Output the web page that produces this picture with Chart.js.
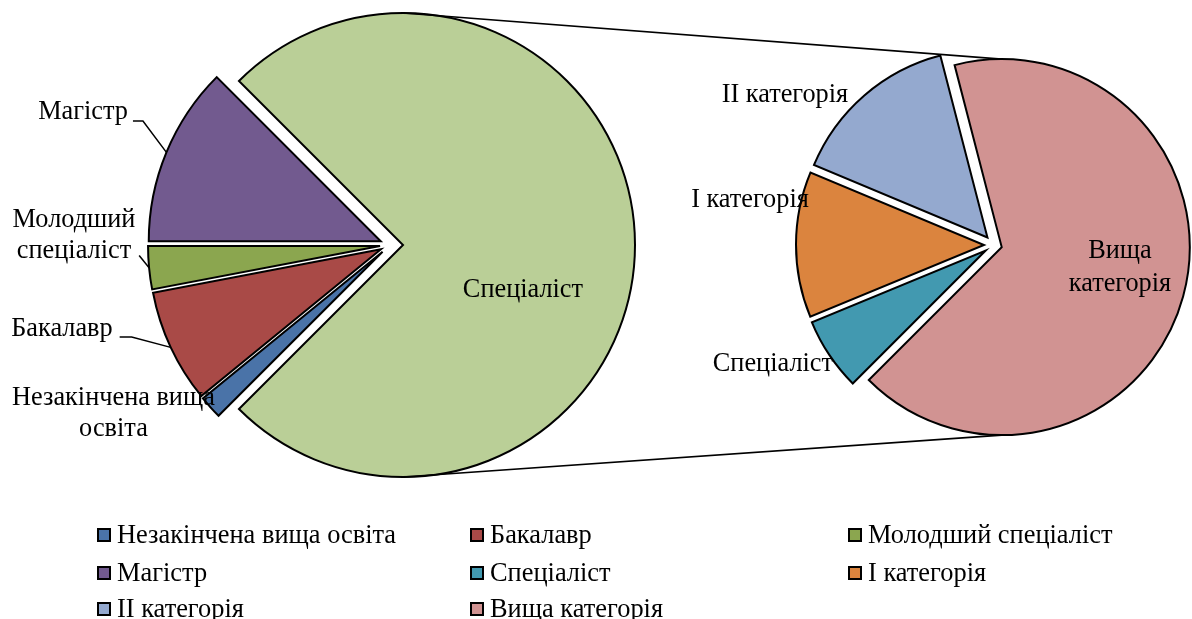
<!DOCTYPE html>
<html>
<head>
<meta charset="utf-8">
<script src="https://cdn.jsdelivr.net/npm/chart.js@4"></script>
<style>
html,body{margin:0;padding:0;background:#fff;}
#wrap{position:relative;width:1192px;height:619px;overflow:hidden;background:#fff;}
#wrap canvas{position:absolute;left:0;top:0;}
.lg{position:absolute;font-family:"Liberation Serif";font-size:26.4px;color:#000;white-space:nowrap;line-height:30px;height:30px;padding-left:20px;}
.lg i{position:absolute;left:0;top:9px;width:10px;height:10px;border:2px solid #000;}
</style>
</head>
<body>
<div id="wrap">
  <canvas id="c1" width="1192" height="619"></canvas>
  <canvas id="c2" width="1192" height="619"></canvas>
  <div id="legend"></div>
</div>
<script>
// ---- data ----
const mainCategories = ['Незакінчена вища освіта', 'Бакалавр', 'Молодший спеціаліст', 'Магістр'];
const mainValues = [1.6, 7.9, 3.0, 12.5];
const mainColors = ['#4A73A8', '#A94A47', '#8BA64F', '#725A8F'];

const otherLabel = 'Спеціаліст';
const otherColor = '#BACF97';

const subCategories = ['Спеціаліст', 'І категорія', 'ІІ категорія', 'Вища категорія'];
const subValues = [4.7, 9.4, 11.0, 49.9];
const subColors = ['#4299B0', '#DB843E', '#94A9CF', '#D19392'];

const otherValue = subValues.reduce((a, b) => a + b, 0);

const FONT = '26.3px "Liberation Serif"';

// ---- plugin: explode slices, labels with leaders, connector lines ----
const pieExtras = {
  id: 'pieExtras',
  afterUpdate(chart, args, opts) {
    const meta = chart.getDatasetMeta(0);
    const ca = chart.chartArea;
    const cx = (ca.left + ca.right) / 2, cy = (ca.top + ca.bottom) / 2;
    const ex = opts.explode || [];
    meta.data.forEach((arc, i) => {
      const mid = (arc.startAngle + arc.endAngle) / 2;
      const e = ex[i] || 0;
      arc.x = cx + Math.cos(mid) * e;
      arc.y = cy + Math.sin(mid) * e;
    });
  },
  afterDatasetsDraw(chart, args, opts) {
    const ctx = chart.ctx;
    const meta = chart.getDatasetMeta(0);
    const ca = chart.chartArea;
    const cx = (ca.left + ca.right) / 2, cy = (ca.top + ca.bottom) / 2;
    const names = chart.data.labels;
    ctx.save();
    ctx.font = FONT;
    ctx.fillStyle = '#000';
    ctx.strokeStyle = '#000';
    ctx.textAlign = 'center';
    ctx.textBaseline = 'middle';
    const lh = opts.lineHeight || 31;
    (opts.labels || []).forEach((cfg, i) => {
      if (!cfg) return;
      const arc = meta.data[i];
      const R = arc.outerRadius;
      const tx = cx + cfg.pos[0] * R;
      const ty = cy + cfg.pos[1] * R;
      const words = names[i].split(' ');
      const lines = cfg.br ? [words.slice(0, cfg.br).join(' '), words.slice(cfg.br).join(' ')] : [names[i]];
      const y0 = ty - (lines.length - 1) * lh / 2;
      lines.forEach((l, k) => ctx.fillText(l, tx, y0 + k * lh));
      if (cfg.leader) {
        const last = lines[lines.length - 1];
        const w = ctx.measureText(last).width;
        const ly = y0 + (lines.length - 1) * lh + cfg.leader.dy;
        const x1 = tx + w / 2 + cfg.leader.gap;
        const x2 = x1 + cfg.leader.len;
        const mid = (arc.startAngle + arc.endAngle) / 2;
        const px = arc.x + Math.cos(mid) * R;
        const py = arc.y + Math.sin(mid) * R;
        ctx.beginPath();
        ctx.moveTo(x1, ly);
        ctx.lineTo(x2, ly);
        ctx.lineTo(px, py);
        ctx.lineWidth = 1.5;
        ctx.stroke();
      }
    });
    if (opts.connect && window.leftChart) {
      const la = window.leftChart.getDatasetMeta(0).data[opts.connect.from];
      const ra = meta.data[opts.connect.to];
      ctx.beginPath();
      ctx.moveTo(la.x, la.y - la.outerRadius);
      ctx.lineTo(ra.x, ra.y - ra.outerRadius);
      ctx.moveTo(la.x, la.y + la.outerRadius);
      ctx.lineTo(ra.x, ra.y + ra.outerRadius);
      ctx.lineWidth = 1.7;
      ctx.stroke();
    }
    ctx.restore();
  }
};

const baseOptions = {
  responsive: false,
  animation: false,
  devicePixelRatio: 1,
  rotation: 225,
  events: []
};

window.leftChart = new Chart(document.getElementById('c1'), {
  type: 'pie',
  data: {
    labels: [...mainCategories, otherLabel],
    datasets: [{
      data: [...mainValues, otherValue],
      backgroundColor: [...mainColors, otherColor],
      borderColor: '#000',
      borderWidth: 2,
      borderJoinStyle: 'miter'
    }]
  },
  options: Object.assign({}, baseOptions, {
    radius: 232,
    layout: { padding: { left: 0, right: 412, top: 0, bottom: 129 } },
    plugins: {
      legend: { display: false },
      tooltip: { enabled: false },
      pieExtras: {
        explode: [10, 10, 10, 10, 13],
        lineHeight: 31,
        labels: [
          { pos: [-1.192, 0.728], br: 2 },
          { pos: [-1.414, 0.362], leader: { gap: 7, len: 12, dy: 8 } },
          { pos: [-1.362, -0.039], br: 1, leader: { gap: 8, len: 0, dy: 4 } },
          { pos: [-1.323, -0.573], leader: { gap: 5, len: 10, dy: 9 } },
          { pos: [0.573, 0.194] }
        ]
      }
    }
  }),
  plugins: [pieExtras]
});

window.rightChart = new Chart(document.getElementById('c2'), {
  type: 'pie',
  data: {
    labels: subCategories,
    datasets: [{
      data: subValues,
      backgroundColor: subColors,
      borderColor: '#000',
      borderWidth: 2,
      borderJoinStyle: 'miter'
    }]
  },
  options: Object.assign({}, baseOptions, {
    radius: 188,
    layout: { padding: { left: 796, right: 0, top: 0, bottom: 129 } },
    plugins: {
      legend: { display: false },
      tooltip: { enabled: false },
      pieExtras: {
        explode: [10, 10, 10, 8],
        lineHeight: 33,
        connect: { from: 4, to: 3 },
        labels: [
          { pos: [-1.176, 0.633] },
          { pos: [-1.298, -0.239] },
          { pos: [-1.112, -0.798] },
          { pos: [0.67, 0.12], br: 1 }
        ]
      }
    }
  }),
  plugins: [pieExtras]
});

// ---- legend (HTML) ----
const legendNames = [...mainCategories, ...subCategories];
const legendColors = [...mainColors, ...subColors];
const colX = [97, 470, 848];
const rowY = [534, 572, 608];
const lg = document.getElementById('legend');
legendNames.forEach((name, i) => {
  const d = document.createElement('div');
  d.className = 'lg';
  d.style.left = colX[i % 3] + 'px';
  d.style.top = (rowY[Math.floor(i / 3)] - 15) + 'px';
  const m = document.createElement('i');
  m.style.background = legendColors[i];
  d.appendChild(m);
  d.appendChild(document.createTextNode(name));
  lg.appendChild(d);
});
</script>
</body>
</html>
